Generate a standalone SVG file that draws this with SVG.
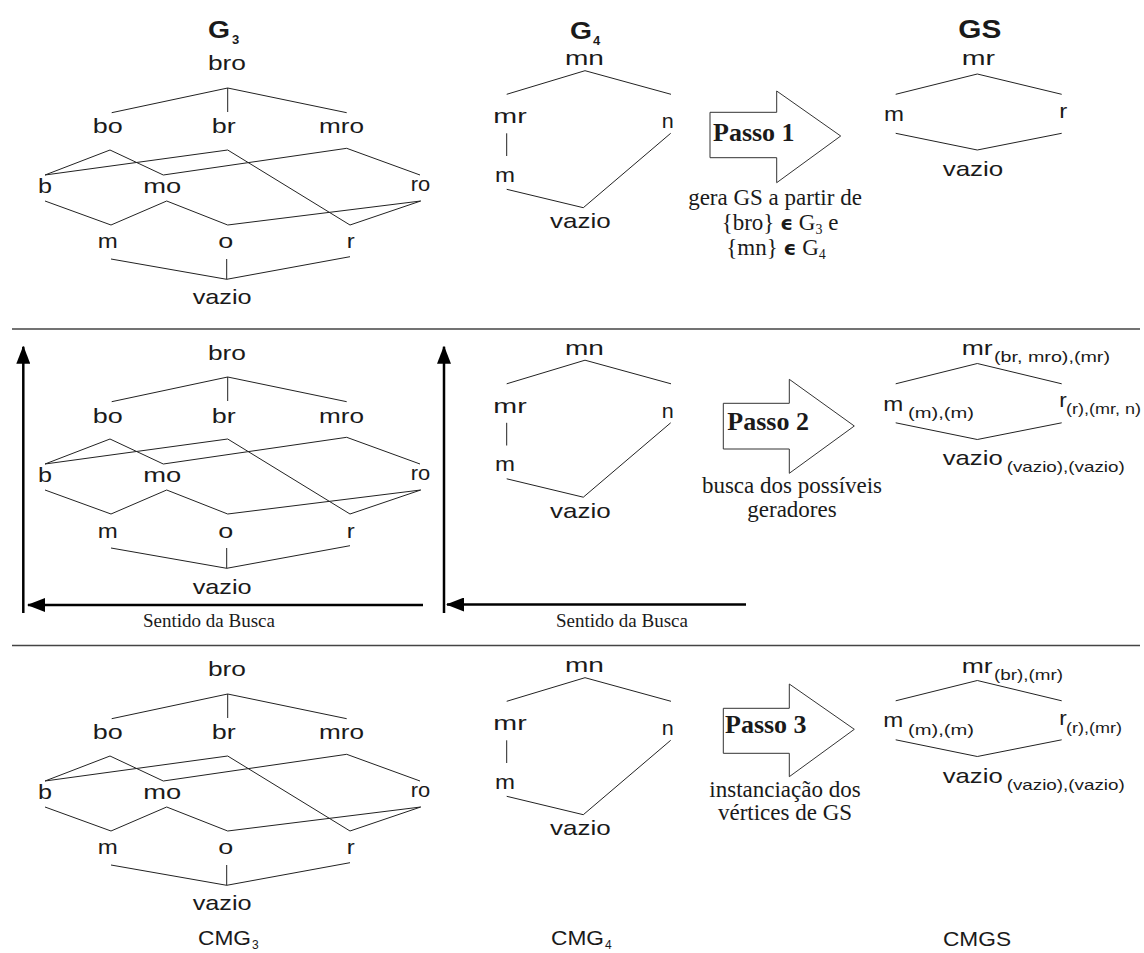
<svg xmlns="http://www.w3.org/2000/svg" width="1144" height="953" viewBox="0 0 1144 953">
<defs>
<style>
.l{font-family:"Liberation Sans",Arial,sans-serif;font-size:21px;fill:#1a1a1a}
.s{font-family:"Liberation Sans",Arial,sans-serif;font-size:15px;fill:#1a1a1a}
.t{font-family:"Liberation Sans",Arial,sans-serif;font-size:23px;font-weight:bold;fill:#1a1a1a}
.tg{font-family:"Liberation Sans",Arial,sans-serif;font-size:26px;font-weight:bold;fill:#1a1a1a}
.ts{font-family:"Liberation Sans",Arial,sans-serif;font-size:13px;font-weight:bold;fill:#1a1a1a}
.cs{font-family:"Liberation Sans",Arial,sans-serif;font-size:12px;fill:#1a1a1a}
.c{font-family:"Liberation Sans",Arial,sans-serif;font-size:20px;fill:#1a1a1a}
.sf{font-family:"Liberation Serif","Times New Roman",serif;font-size:23px;fill:#1a1a1a}
.sm{font-family:"Liberation Serif","Times New Roman",serif;font-size:19px;fill:#1a1a1a}
.sb{font-family:"Liberation Serif","Times New Roman",serif;font-size:26px;font-weight:bold;fill:#1a1a1a}
.ep{font-family:"DejaVu Sans",sans-serif;font-weight:bold;font-size:20px}
.e path{stroke:#222;stroke-width:1;fill:none}
.blk{fill:#fff;stroke:#333;stroke-width:1}
.sep{stroke:#444;stroke-width:1.3}
.ax{stroke:#000;stroke-width:2.5;fill:none}
</style>
<marker id="ah" markerUnits="userSpaceOnUse" markerWidth="18" markerHeight="14" viewBox="0 0 18 14" refX="17" refY="7" orient="auto">
<path d="M0,0 L18,7 L0,14 z" fill="#000"/>
</marker>
</defs>
<rect width="1144" height="953" fill="#fff"/>

<g id="separators">
<line class="sep" x1="12" y1="329" x2="1140" y2="329"/>
<line class="sep" x1="12" y1="645.5" x2="1140" y2="645.5"/>
</g>

<g id="connectors" class="e">
  <g id="g3-edges-1">
    <path d="M227.7,88 L111.7,112.7 M227.7,88 L227.7,112 M227.7,88 L346.7,112.7"/>
    <path d="M110,150 L45,175 M110,150 L163.3,175 M227.7,150 L45,175 M227.7,150 L350,225 M346.7,148.3 L163.3,175 M346.7,148.3 L420,175"/>
    <path d="M45,201 L111,225 M166.7,201 L111,225 M166.7,201 L227.7,225 M420.7,201 L227.7,225 M420.7,201 L350,225"/>
    <path d="M111,259 L226.7,279.3 M226.7,259 L226.7,279.3 M350,256.7 L226.7,279.3"/>
  </g>
  <g id="g3-edges-2" transform="translate(0,289)">
    <path d="M227.7,88 L111.7,112.7 M227.7,88 L227.7,112 M227.7,88 L346.7,112.7"/>
    <path d="M110,150 L45,175 M110,150 L163.3,175 M227.7,150 L45,175 M227.7,150 L350,225 M346.7,148.3 L163.3,175 M346.7,148.3 L420,175"/>
    <path d="M45,201 L111,225 M166.7,201 L111,225 M166.7,201 L227.7,225 M420.7,201 L227.7,225 M420.7,201 L350,225"/>
    <path d="M111,259 L226.7,279.3 M226.7,259 L226.7,279.3 M350,256.7 L226.7,279.3"/>
  </g>
  <g id="g3-edges-3" transform="translate(0,606)">
    <path d="M227.7,88 L111.7,112.7 M227.7,88 L227.7,112 M227.7,88 L346.7,112.7"/>
    <path d="M110,150 L45,175 M110,150 L163.3,175 M227.7,150 L45,175 M227.7,150 L350,225 M346.7,148.3 L163.3,175 M346.7,148.3 L420,175"/>
    <path d="M45,201 L111,225 M166.7,201 L111,225 M166.7,201 L227.7,225 M420.7,201 L227.7,225 M420.7,201 L350,225"/>
    <path d="M111,259 L226.7,279.3 M226.7,259 L226.7,279.3 M350,256.7 L226.7,279.3"/>
  </g>
  <g id="g4-edges-1">
    <path d="M585,70.7 L506.7,94.3 M585,70.7 L671,94.3 M506.7,133.3 L506.7,156 M506.7,189.3 L583.3,207.7 M670.7,133.3 L583.3,207.7"/>
  </g>
  <g id="g4-edges-2" transform="translate(0,289.5)">
    <path d="M585,70.7 L506.7,94.3 M585,70.7 L671,94.3 M506.7,133.3 L506.7,156 M506.7,189.3 L583.3,207.7 M670.7,133.3 L583.3,207.7"/>
  </g>
  <g id="g4-edges-3" transform="translate(0,607)">
    <path d="M585,70.7 L506.7,94.3 M585,70.7 L671,94.3 M506.7,133.3 L506.7,156 M506.7,189.3 L583.3,207.7 M670.7,133.3 L583.3,207.7"/>
  </g>
  <g id="gs-edges-1">
    <path d="M977.3,74 L895.7,94.3 M977.3,74 L1061.7,94.3 M895.7,133.3 L977.3,150 M1061.7,133.3 L977.3,150"/>
  </g>
  <g id="gs-edges-2" transform="translate(0,289.5)">
    <path d="M977.3,74 L895.7,94.3 M977.3,74 L1061.7,94.3 M895.7,133.3 L977.3,150 M1061.7,133.3 L977.3,150"/>
  </g>
  <g id="gs-edges-3" transform="translate(0,606.5)">
    <path d="M977.3,74 L895.7,94.3 M977.3,74 L1061.7,94.3 M895.7,133.3 L977.3,150 M1061.7,133.3 L977.3,150"/>
  </g>
  <g id="search-arrows">
    <line class="ax" x1="23.3" y1="613" x2="23.3" y2="346.7" marker-end="url(#ah)"/>
    <line class="ax" x1="423" y1="605" x2="28" y2="605" marker-end="url(#ah)"/>
    <line class="ax" x1="444" y1="613" x2="444" y2="346.7" marker-end="url(#ah)"/>
    <line class="ax" x1="746" y1="604.5" x2="447" y2="604.5" marker-end="url(#ah)"/>
  </g>
</g>

<g id="title-g3"><text class="t" x="208" y="38" textLength="22" lengthAdjust="spacingAndGlyphs">G</text><text class="ts" x="232" y="44">3</text></g>
<g id="title-g4"><text class="t" x="570" y="39" textLength="22" lengthAdjust="spacingAndGlyphs">G</text><text class="ts" x="593" y="45">4</text></g>
<g id="title-gs"><text class="tg" x="958.3" y="38.3" textLength="43" lengthAdjust="spacingAndGlyphs">GS</text></g>

<g id="p1-g3" class="l">
  <g id="p1-g3-bro"><text x="208" y="70" textLength="38" lengthAdjust="spacingAndGlyphs">bro</text></g>
  <g id="p1-g3-bo"><text x="92.7" y="133" textLength="30" lengthAdjust="spacingAndGlyphs">bo</text></g>
  <g id="p1-g3-br"><text x="211.7" y="133" textLength="24" lengthAdjust="spacingAndGlyphs">br</text></g>
  <g id="p1-g3-mro"><text x="319" y="133" textLength="45" lengthAdjust="spacingAndGlyphs">mro</text></g>
  <g id="p1-g3-b"><text x="38" y="192.5" textLength="14" lengthAdjust="spacingAndGlyphs">b</text></g>
  <g id="p1-g3-mo"><text x="143.3" y="192.5" textLength="38" lengthAdjust="spacingAndGlyphs">mo</text></g>
  <g id="p1-g3-ro"><text x="410.7" y="190.5" textLength="19.5" lengthAdjust="spacingAndGlyphs">ro</text></g>
  <g id="p1-g3-m"><text x="97.7" y="248" textLength="20" lengthAdjust="spacingAndGlyphs">m</text></g>
  <g id="p1-g3-o"><text x="218.3" y="248" textLength="15" lengthAdjust="spacingAndGlyphs">o</text></g>
  <g id="p1-g3-r"><text x="346.7" y="248" textLength="8" lengthAdjust="spacingAndGlyphs">r</text></g>
  <g id="p1-g3-vazio"><text x="192.7" y="304" textLength="59" lengthAdjust="spacingAndGlyphs">vazio</text></g>
</g>
<g id="p2-g3" class="l" transform="translate(0,289.5)">
  <g id="p2-g3-bro"><text x="208" y="70" textLength="38" lengthAdjust="spacingAndGlyphs">bro</text></g>
  <g id="p2-g3-bo"><text x="92.7" y="133" textLength="30" lengthAdjust="spacingAndGlyphs">bo</text></g>
  <g id="p2-g3-br"><text x="211.7" y="133" textLength="24" lengthAdjust="spacingAndGlyphs">br</text></g>
  <g id="p2-g3-mro"><text x="319" y="133" textLength="45" lengthAdjust="spacingAndGlyphs">mro</text></g>
  <g id="p2-g3-b"><text x="38" y="192.5" textLength="14" lengthAdjust="spacingAndGlyphs">b</text></g>
  <g id="p2-g3-mo"><text x="143.3" y="192.5" textLength="38" lengthAdjust="spacingAndGlyphs">mo</text></g>
  <g id="p2-g3-ro"><text x="410.7" y="190.5" textLength="19.5" lengthAdjust="spacingAndGlyphs">ro</text></g>
  <g id="p2-g3-m"><text x="97.7" y="248" textLength="20" lengthAdjust="spacingAndGlyphs">m</text></g>
  <g id="p2-g3-o"><text x="218.3" y="248" textLength="15" lengthAdjust="spacingAndGlyphs">o</text></g>
  <g id="p2-g3-r"><text x="346.7" y="248" textLength="8" lengthAdjust="spacingAndGlyphs">r</text></g>
  <g id="p2-g3-vazio"><text x="192.7" y="304" textLength="59" lengthAdjust="spacingAndGlyphs">vazio</text></g>
</g>
<g id="p3-g3" class="l" transform="translate(0,606)">
  <g id="p3-g3-bro"><text x="208" y="70" textLength="38" lengthAdjust="spacingAndGlyphs">bro</text></g>
  <g id="p3-g3-bo"><text x="92.7" y="133" textLength="30" lengthAdjust="spacingAndGlyphs">bo</text></g>
  <g id="p3-g3-br"><text x="211.7" y="133" textLength="24" lengthAdjust="spacingAndGlyphs">br</text></g>
  <g id="p3-g3-mro"><text x="319" y="133" textLength="45" lengthAdjust="spacingAndGlyphs">mro</text></g>
  <g id="p3-g3-b"><text x="38" y="192.5" textLength="14" lengthAdjust="spacingAndGlyphs">b</text></g>
  <g id="p3-g3-mo"><text x="143.3" y="192.5" textLength="38" lengthAdjust="spacingAndGlyphs">mo</text></g>
  <g id="p3-g3-ro"><text x="410.7" y="190.5" textLength="19.5" lengthAdjust="spacingAndGlyphs">ro</text></g>
  <g id="p3-g3-m"><text x="97.7" y="248" textLength="20" lengthAdjust="spacingAndGlyphs">m</text></g>
  <g id="p3-g3-o"><text x="218.3" y="248" textLength="15" lengthAdjust="spacingAndGlyphs">o</text></g>
  <g id="p3-g3-r"><text x="346.7" y="248" textLength="8" lengthAdjust="spacingAndGlyphs">r</text></g>
  <g id="p3-g3-vazio"><text x="192.7" y="304" textLength="59" lengthAdjust="spacingAndGlyphs">vazio</text></g>
</g>

<g id="p1-g4" class="l">
  <g id="p1-g4-mn"><text x="565" y="65" textLength="39" lengthAdjust="spacingAndGlyphs">mn</text></g>
  <g id="p1-g4-mr"><text x="493.3" y="123" textLength="33.4" lengthAdjust="spacingAndGlyphs">mr</text></g>
  <g id="p1-g4-n"><text x="661.7" y="128" textLength="12" lengthAdjust="spacingAndGlyphs">n</text></g>
  <g id="p1-g4-m"><text x="495" y="181.7" textLength="20" lengthAdjust="spacingAndGlyphs">m</text></g>
  <g id="p1-g4-vazio"><text x="550" y="228.3" textLength="60.7" lengthAdjust="spacingAndGlyphs">vazio</text></g>
</g>
<g id="p2-g4" class="l" transform="translate(0,289.5)">
  <g id="p2-g4-mn"><text x="565" y="65" textLength="39" lengthAdjust="spacingAndGlyphs">mn</text></g>
  <g id="p2-g4-mr"><text x="493.3" y="123" textLength="33.4" lengthAdjust="spacingAndGlyphs">mr</text></g>
  <g id="p2-g4-n"><text x="661.7" y="128" textLength="12" lengthAdjust="spacingAndGlyphs">n</text></g>
  <g id="p2-g4-m"><text x="495" y="181.7" textLength="20" lengthAdjust="spacingAndGlyphs">m</text></g>
  <g id="p2-g4-vazio"><text x="550" y="228.3" textLength="60.7" lengthAdjust="spacingAndGlyphs">vazio</text></g>
</g>
<g id="p3-g4" class="l" transform="translate(0,607)">
  <g id="p3-g4-mn"><text x="565" y="65" textLength="39" lengthAdjust="spacingAndGlyphs">mn</text></g>
  <g id="p3-g4-mr"><text x="493.3" y="123" textLength="33.4" lengthAdjust="spacingAndGlyphs">mr</text></g>
  <g id="p3-g4-n"><text x="661.7" y="128" textLength="12" lengthAdjust="spacingAndGlyphs">n</text></g>
  <g id="p3-g4-m"><text x="495" y="181.7" textLength="20" lengthAdjust="spacingAndGlyphs">m</text></g>
  <g id="p3-g4-vazio"><text x="550" y="228.3" textLength="60.7" lengthAdjust="spacingAndGlyphs">vazio</text></g>
</g>

<g id="p1-gs" class="l">
  <g id="p1-gs-mr"><text x="961.7" y="65" textLength="33.3" lengthAdjust="spacingAndGlyphs">mr</text></g>
  <g id="p1-gs-m"><text x="884" y="120.7" textLength="20" lengthAdjust="spacingAndGlyphs">m</text></g>
  <g id="p1-gs-r"><text x="1059.3" y="118" textLength="8" lengthAdjust="spacingAndGlyphs">r</text></g>
  <g id="p1-gs-vazio"><text x="942.7" y="175.7" textLength="60.6" lengthAdjust="spacingAndGlyphs">vazio</text></g>
</g>
<g id="p2-gs">
  <g id="p2-gs-mr"><text class="l" x="961.7" y="355" textLength="31" lengthAdjust="spacingAndGlyphs">mr</text><text class="s" x="994" y="362" textLength="116" lengthAdjust="spacingAndGlyphs">(br, mro),(mr)</text></g>
  <g id="p2-gs-m"><text class="l" x="883.3" y="410.7" textLength="20" lengthAdjust="spacingAndGlyphs">m</text><text class="s" x="908" y="418.3" textLength="66" lengthAdjust="spacingAndGlyphs">(m),(m)</text></g>
  <g id="p2-gs-r"><text class="l" x="1059.3" y="407.3" textLength="7.5" lengthAdjust="spacingAndGlyphs">r</text><text class="s" x="1066" y="414.3" textLength="75" lengthAdjust="spacingAndGlyphs">(r),(mr, n)</text></g>
  <g id="p2-gs-vazio"><text class="l" x="942.7" y="465" textLength="60" lengthAdjust="spacingAndGlyphs">vazio</text><text class="s" x="1006.7" y="471.7" textLength="118" lengthAdjust="spacingAndGlyphs">(vazio),(vazio)</text></g>
</g>
<g id="p3-gs">
  <g id="p3-gs-mr"><text class="l" x="961.7" y="673.3" textLength="31" lengthAdjust="spacingAndGlyphs">mr</text><text class="s" x="994" y="680" textLength="69" lengthAdjust="spacingAndGlyphs">(br),(mr)</text></g>
  <g id="p3-gs-m"><text class="l" x="883.3" y="727.3" textLength="20" lengthAdjust="spacingAndGlyphs">m</text><text class="s" x="908" y="735" textLength="66" lengthAdjust="spacingAndGlyphs">(m),(m)</text></g>
  <g id="p3-gs-r"><text class="l" x="1059.3" y="725" textLength="7.5" lengthAdjust="spacingAndGlyphs">r</text><text class="s" x="1066" y="732.7" textLength="56" lengthAdjust="spacingAndGlyphs">(r),(mr)</text></g>
  <g id="p3-gs-vazio"><text class="l" x="942.7" y="783.3" textLength="60" lengthAdjust="spacingAndGlyphs">vazio</text><text class="s" x="1006.7" y="790" textLength="118" lengthAdjust="spacingAndGlyphs">(vazio),(vazio)</text></g>
</g>

<g id="passo1">
  <polygon class="blk" points="710,112.3 776.7,112.3 776.7,91 840.7,136 776.7,182.7 776.7,157.7 710,157.7"/>
  <text class="sb" x="713" y="141">Passo 1</text>
  <text class="sf" x="775" y="205" text-anchor="middle">gera GS a partir de</text>
  <text class="sf" x="780" y="230" text-anchor="middle">{bro} <tspan class="ep">ϵ</tspan> G<tspan font-size="14" dy="4">3</tspan><tspan dy="-4"> e</tspan></text>
  <text class="sf" x="776" y="255" text-anchor="middle">{mn} <tspan class="ep">ϵ</tspan> G<tspan font-size="14" dy="4">4</tspan></text>
</g>
<g id="passo2">
  <polygon class="blk" points="723.3,403.3 789.3,403.3 789.3,379.3 854.3,426 789.3,473.3 789.3,449 723.3,449"/>
  <text class="sb" x="727.3" y="430">Passo 2</text>
  <text class="sf" x="792" y="493.3" text-anchor="middle">busca dos possíveis</text>
  <text class="sf" x="792" y="516.7" text-anchor="middle">geradores</text>
</g>
<g id="passo3">
  <polygon class="blk" points="723.3,708.3 789.3,708.3 789.3,684 854.3,729.3 789.3,776.7 789.3,753.3 723.3,753.3"/>
  <text class="sb" x="725" y="733.3">Passo 3</text>
  <text class="sf" x="785" y="796.7" text-anchor="middle">instanciação dos</text>
  <text class="sf" x="785" y="820" text-anchor="middle">vértices de GS</text>
</g>

<g id="busca-labels">
  <text class="sm" x="209" y="626.5" text-anchor="middle">Sentido da Busca</text>
  <text class="sm" x="622" y="626.5" text-anchor="middle">Sentido da Busca</text>
</g>

<g id="cap-cmg3"><text class="c" x="198" y="945" textLength="53" lengthAdjust="spacingAndGlyphs">CMG</text><text class="cs" x="252" y="949">3</text></g>
<g id="cap-cmg4"><text class="c" x="551" y="945" textLength="53" lengthAdjust="spacingAndGlyphs">CMG</text><text class="cs" x="605" y="949">4</text></g>
<g id="cap-cmgs"><text class="c" x="977" y="946" text-anchor="middle" textLength="68" lengthAdjust="spacingAndGlyphs">CMGS</text></g>
</svg>
